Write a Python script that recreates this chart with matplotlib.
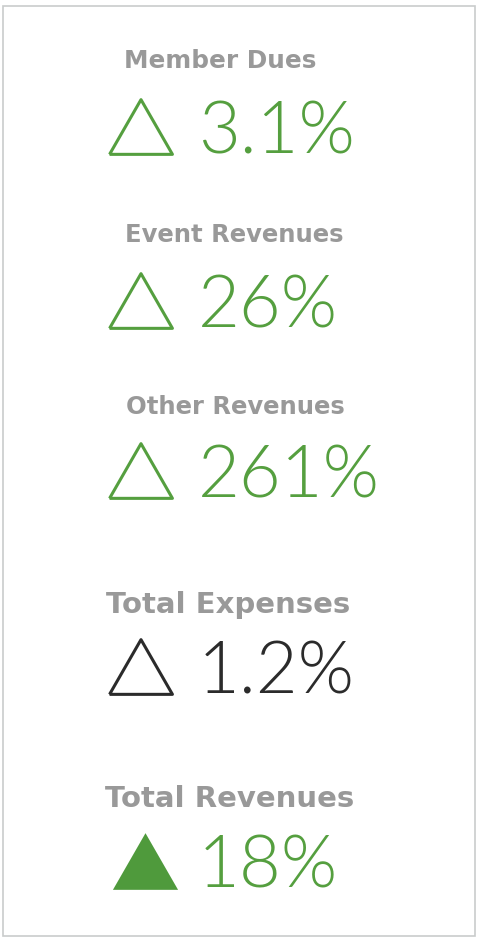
import matplotlib.pyplot as plt
from matplotlib.patches import Rectangle

# KPI card data
labels = ["Member Dues", "Event Revenues", "Other Revenues", "Total Expenses", "Total Revenues"]
values = ["3.1%", "26%", "261%", "1.2%", "18%"]
value_colors = ["#559f3f", "#559f3f", "#559f3f", "#2b2b2b", "#559f3f"]
tri_colors = ["#559f3f", "#559f3f", "#559f3f", "#2b2b2b", "#4f9a3c"]
tri_filled = [False, False, False, False, True]

# layout (pixel coords, y down)
label_y = [68, 242, 414, 613, 807]
label_x = [220, 234, 235, 228, 230]
label_size = [17.8, 17.5, 17.5, 21, 21]
value_y = [153, 327, 497, 693, 887]

# flatter triangle than the default '^'
tri = [(-1, -0.87), (1, -0.87), (0, 0.87), (-1, -0.87)]

W, H = 479, 940
fig = plt.figure(figsize=(W / 100, H / 100), dpi=100)
ax = fig.add_axes([0, 0, 1, 1])
ax.set_xlim(0, W)
ax.set_ylim(H, 0)
ax.axis("off")

# card border
ax.add_patch(Rectangle((3, 6), 472, 930, fill=False, edgecolor="#c9cccc", linewidth=1.2))

for i in range(len(labels)):
    ax.text(label_x[i], label_y[i], labels[i], ha="center", va="baseline",
            fontsize=label_size[i], color="#999999", family="DejaVu Sans", fontweight="bold")
    ax.text(198, value_y[i], values[i], ha="left", va="baseline",
            fontsize=52, color=value_colors[i], family="Lato", fontweight=300)
    ty = value_y[i] - 26
    if tri_filled[i]:
        ax.scatter([145], [ty], marker=tri, s=2200, c=tri_colors[i], linewidths=0)
    else:
        ax.scatter([141], [ty], marker=tri, s=2050, facecolors="none",
                   edgecolors=tri_colors[i], linewidths=2.2)

fig.savefig("out.png", dpi=100)
